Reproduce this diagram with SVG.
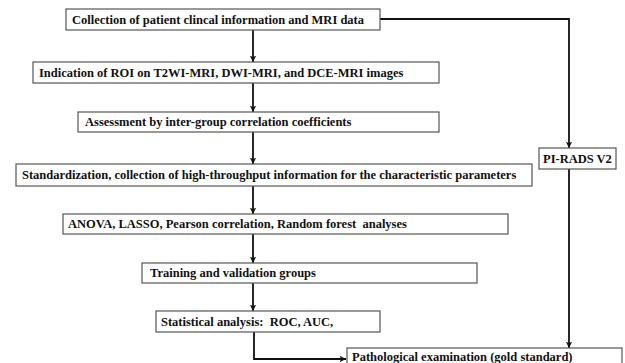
<svg xmlns="http://www.w3.org/2000/svg" width="625" height="363" viewBox="0 0 625 363">
<style>
.box{fill:#fff;stroke:#555;stroke-width:1.2}
.t{font-family:"Liberation Serif","Times New Roman",serif;font-weight:bold;font-size:12.5px;fill:#111}
.c{fill:none;stroke:#111;stroke-width:1.8}
</style>
<defs>
<marker id="ah" viewBox="0 0 10 10" refX="10" refY="5" markerWidth="3.6" markerHeight="3.6" orient="auto" markerUnits="strokeWidth">
<path d="M0,0 L10,5 L0,10 L2.5,5 Z" fill="#111"/>
</marker>
</defs>
<rect width="625" height="363" fill="#fff"/>
<g id="connectors">
<line class="c" x1="253" y1="30" x2="253" y2="62" marker-end="url(#ah)"/>
<line class="c" x1="253" y1="83" x2="253" y2="112" marker-end="url(#ah)"/>
<line class="c" x1="253" y1="132" x2="253" y2="164" marker-end="url(#ah)"/>
<line class="c" x1="253" y1="186" x2="253" y2="214" marker-end="url(#ah)"/>
<line class="c" x1="253" y1="234" x2="253" y2="263" marker-end="url(#ah)"/>
<line class="c" x1="253" y1="283" x2="253" y2="311" marker-end="url(#ah)"/>
<polyline class="c" points="254,332 254,359 346,359" marker-end="url(#ah)"/>
<polyline class="c" points="380,19 569,19 569,148" marker-end="url(#ah)"/>
<line class="c" x1="569" y1="169" x2="569" y2="348" marker-end="url(#ah)"/>
</g>
<g id="n1"><rect class="box" x="66" y="9" width="314" height="21"/><text class="t" x="72" y="24">Collection of patient clincal information and MRI data</text></g>
<g id="n2"><rect class="box" x="33" y="62" width="406" height="21"/><text class="t" x="39" y="77">Indication of ROI on T2WI-MRI, DWI-MRI, and DCE-MRI images</text></g>
<g id="n3"><rect class="box" x="78" y="112" width="361" height="20"/><text class="t" x="85" y="126">Assessment by inter-group correlation coefficients</text></g>
<g id="n4"><rect class="box" x="16" y="164" width="516" height="22"/><text class="t" x="22" y="179">Standardization, collection of high-throughput information for the characteristic parameters</text></g>
<g id="n5"><rect class="box" x="63" y="214" width="445" height="20"/><text class="t" x="68" y="228" xml:space="preserve">ANOVA, LASSO, Pearson correlation, Random forest  analyses</text></g>
<g id="n6"><rect class="box" x="142" y="263" width="335" height="20"/><text class="t" x="150" y="277">Training and validation groups</text></g>
<g id="n7"><rect class="box" x="156" y="311" width="224" height="21"/><text class="t" x="161" y="326" xml:space="preserve">Statistical analysis:  ROC, AUC,</text></g>
<g id="n8"><rect class="box" x="539" y="148" width="77" height="21"/><text class="t" x="543" y="163">PI-RADS V2</text></g>
<g id="n9"><rect class="box" x="347" y="348" width="275" height="25"/><text class="t" x="352" y="361">Pathological examination (gold standard)</text></g>
</svg>
